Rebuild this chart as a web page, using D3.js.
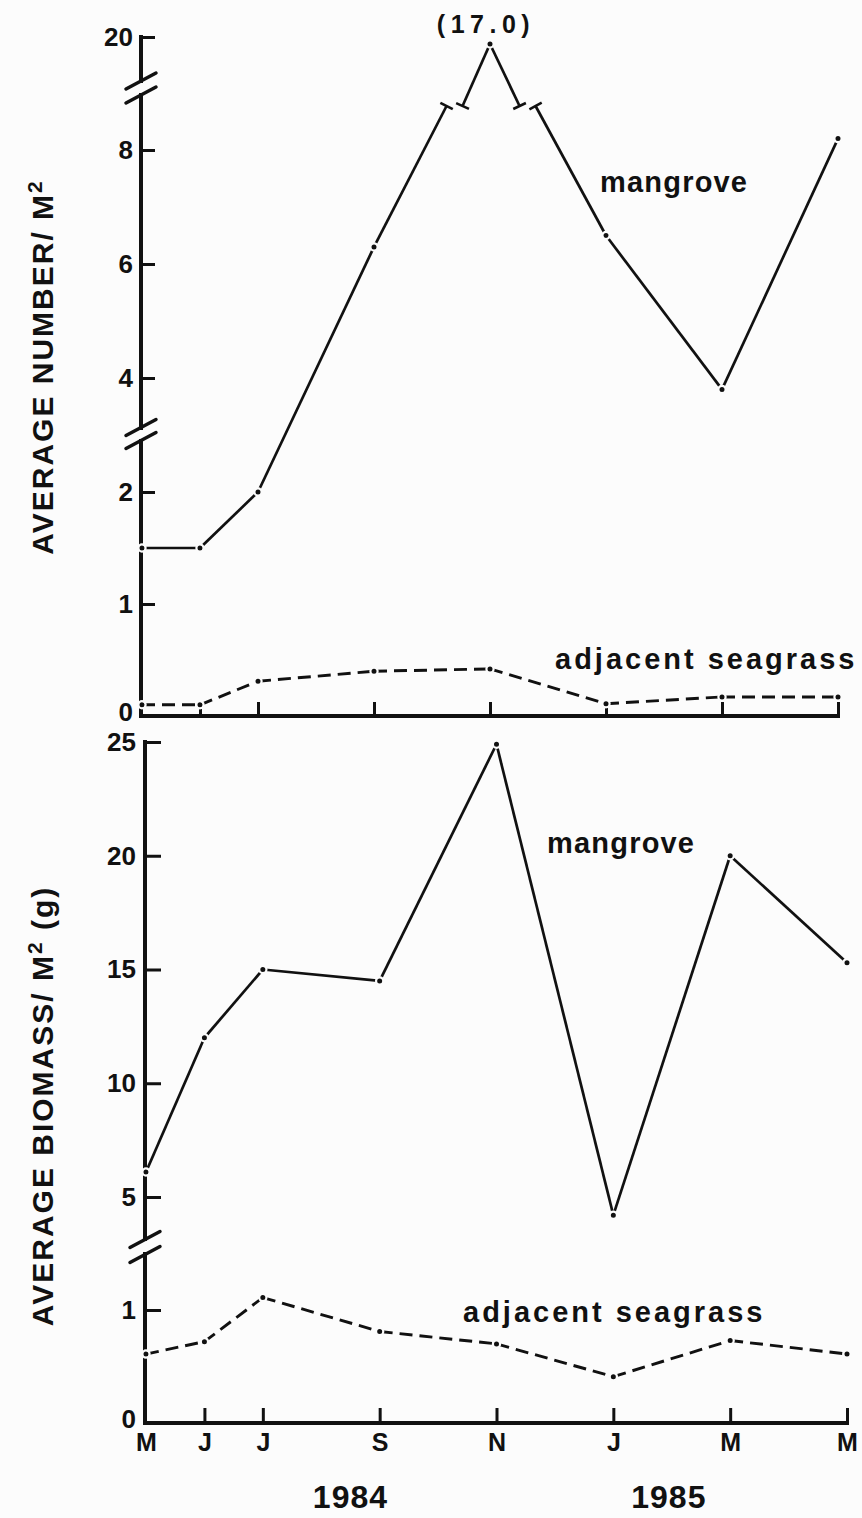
<!DOCTYPE html>
<html>
<head>
<meta charset="utf-8">
<script src="https://cdn.jsdelivr.net/npm/d3@7"></script>
<style>
  html, body { margin: 0; padding: 0; background: #fcfcfc; }
  svg { display: block; }
  text { font-family: "Liberation Sans", Arial, Helvetica, sans-serif; font-weight: bold; fill: #111; }
</style>
</head>
<body>
<svg id="chart" width="862" height="1518"></svg>
<script>
// Sampling months, counted in months from May 1984
const months = ["M", "J", "J", "S", "N", "J", "M", "M"];
const monthIndex = [0, 1, 2, 4, 6, 8, 10, 12];
const years = ["1984", "1985"];
const yearIndex = [3.5, 8.95];

// Average number of fish per m²
const numberMangrove = [1.5, 1.5, 2.0, 6.3, 17.0, 6.5, 3.8, 8.2];
const numberSeagrass = [0.1, 0.1, 0.31, 0.4, 0.42, 0.11, 0.17, 0.17];
const numberTicks = [0, 1, 2, 4, 6, 8, 20];

// Average biomass per m² (g)
const biomassMangrove = [6.1, 12.0, 15.0, 14.5, 24.9, 4.2, 20.0, 15.3];
const biomassSeagrass = [0.61, 0.72, 1.11, 0.81, 0.70, 0.41, 0.73, 0.61];
const biomassTicksLow = [0, 1];
const biomassTicksHigh = [5, 10, 15, 20, 25];

const INK = "#111";
const BG = "#fcfcfc";
const svg = d3.select("#chart");

// ---------- scales ----------
// upper panel: a broken axis, 0–2 stretched, 2–9 normal, top compressed
const xTop = d3.scaleLinear().domain([0, 12]).range([142, 838]);
const yTop = d3.scaleLinear().domain([0, 2, 9, 17, 20]).range([716, 492, 93, 44, 37]);
const axisXTop = 141;

// lower panel: separate scales below and above the axis break
const xBot = d3.scaleLinear().domain([0, 12]).range([146, 847]);
const yBotLow = d3.scaleLinear().domain([0, 1]).range([1423, 1310]);
const yBotHigh = d3.scaleLinear().domain([5, 25]).range([1197, 742]);
const axisXBot = 145;

// ---------- helpers ----------
function axisBreak(g, x, yc, gap) {
  // two parallel slashes across the axis
  [-gap / 2, gap / 2].forEach(off => {
    g.append("line")
      .attr("x1", x - 15).attr("y1", yc + off + 8)
      .attr("x2", x + 15).attr("y2", yc + off - 8)
      .attr("stroke", INK).attr("stroke-width", 3.5).attr("stroke-linecap", "round");
  });
}

function vLine(g, x, y1, y2) {
  g.append("line").attr("x1", x).attr("x2", x).attr("y1", y1).attr("y2", y2)
    .attr("stroke", INK).attr("stroke-width", 4).attr("stroke-linecap", "square");
}

function styleAxis(sel, size) {
  sel.select(".domain").remove();
  sel.selectAll(".tick line").attr("stroke", INK).attr("stroke-width", 3);
  sel.selectAll(".tick text")
    .style("font-size", size + "px")
    .attr("fill", INK)
    .style("font-family", '"Liberation Sans", Arial, Helvetica, sans-serif')
    .style("font-weight", "bold");
}

function capAt(g, end, dir) {
  // short stroke perpendicular to a line piece, marking an interrupted line
  const len = Math.hypot(dir[0], dir[1]);
  const nx = -dir[1] / len * 7, ny = dir[0] / len * 7;
  g.append("line")
    .attr("x1", end[0] - nx).attr("y1", end[1] - ny)
    .attr("x2", end[0] + nx).attr("y2", end[1] + ny)
    .attr("stroke", INK).attr("stroke-width", 2.6);
}

function drawSeries(g, pts, dashed, cutY, cutAbove) {
  for (let i = 0; i < pts.length - 1; i++) {
    const p = pts[i], q = pts[i + 1];
    const crosses = (p[1] < cutY) !== (q[1] < cutY);
    const pieces = [];
    if (cutAbove && crosses) {
      const t = (cutY - p[1]) / (q[1] - p[1]);
      const xc = p[0] + t * (q[0] - p[0]);
      const a = [xc - 8, cutY], b = [xc + 8, cutY];
      pieces.push([p, a], [b, q]);
      capAt(g, a, [a[0] - p[0], a[1] - p[1]]);
      capAt(g, b, [q[0] - b[0], q[1] - b[1]]);
    } else {
      pieces.push([p, q]);
    }
    pieces.forEach(seg => {
      g.append("path")
        .attr("d", d3.line()(seg))
        .attr("fill", "none").attr("stroke", INK)
        .attr("stroke-width", dashed ? 2.9 : 2.7)
        .attr("stroke-dasharray", dashed ? "13,7" : null);
    });
  }
  g.selectAll(null).data(pts).join("circle")
    .attr("cx", d => d[0]).attr("cy", d => d[1]).attr("r", 3.6)
    .attr("fill", INK).attr("stroke", BG).attr("stroke-width", 2.2);
}

// ---------- upper panel: average number ----------
const gTop = svg.append("g");

// y axis (ticks point inward, labels outside)
const yAxisTop = d3.axisLeft(yTop).tickValues(numberTicks).tickSize(-14).tickPadding(8)
  .tickFormat(d3.format("d"));
gTop.append("g").attr("transform", `translate(${axisXTop},0)`).call(yAxisTop)
  .call(s => styleAxis(s, 26))
  .call(s => s.selectAll(".tick text").filter(d => d === 0).attr("y", -4));

// axis line with two breaks
vLine(gTop, axisXTop, yTop(20), 81);
vLine(gTop, axisXTop, 95, 428);
vLine(gTop, axisXTop, 441, yTop(0));
axisBreak(gTop, axisXTop, 88, 14);
axisBreak(gTop, axisXTop, 434, 13);

// x axis
const xAxisTop = d3.axisBottom(xTop).tickValues(monthIndex.slice(1)).tickSize(-14).tickFormat("");
gTop.append("g").attr("transform", `translate(0,${yTop(0)})`).call(xAxisTop).call(s => styleAxis(s, 24));
gTop.append("line").attr("x1", axisXTop).attr("x2", xTop(12))
  .attr("y1", yTop(0)).attr("y2", yTop(0))
  .attr("stroke", INK).attr("stroke-width", 4).attr("stroke-linecap", "square");

// series
const nmPts = numberMangrove.map((v, i) => [xTop(monthIndex[i]), yTop(v)]);
const nsPts = numberSeagrass.map((v, i) => [xTop(monthIndex[i]), yTop(v)]);
drawSeries(gTop, nsPts, true, 0, false);
drawSeries(gTop, nmPts, false, 106, true);

// off-scale value
const peak = numberMangrove.indexOf(d3.max(numberMangrove));
gTop.append("text")
  .attr("x", xTop(monthIndex[peak]) - 4).attr("y", yTop(numberMangrove[peak]) - 11)
  .attr("text-anchor", "middle").style("font-size", "25px").style("letter-spacing", "5.5px")
  .text(`(${numberMangrove[peak].toFixed(1)})`);

gTop.append("text").attr("x", 600).attr("y", 192)
  .style("font-size", "29px").style("letter-spacing", "1.2px").text("mangrove");
gTop.append("text").attr("x", 555).attr("y", 669)
  .style("font-size", "29px").style("letter-spacing", "3px").text("adjacent seagrass");

// y title
const t1 = gTop.append("text")
  .attr("transform", "translate(53,367) rotate(-90)")
  .attr("text-anchor", "middle").style("font-size", "30px").style("letter-spacing", "2px");
t1.append("tspan").text("AVERAGE NUMBER/ M");
t1.append("tspan").attr("dy", -11).style("font-size", "21px").text("2");

// ---------- lower panel: average biomass ----------
const gBot = svg.append("g");

const yAxisBotHigh = d3.axisLeft(yBotHigh).tickValues(biomassTicksHigh).tickSize(-16).tickPadding(9)
  .tickFormat(d3.format("d"));
gBot.append("g").attr("transform", `translate(${axisXBot},0)`).call(yAxisBotHigh)
  .call(s => styleAxis(s, 26));
const yAxisBotLow = d3.axisLeft(yBotLow).tickValues(biomassTicksLow).tickSize(-16).tickPadding(9)
  .tickFormat(d3.format("d"));
gBot.append("g").attr("transform", `translate(${axisXBot},0)`).call(yAxisBotLow)
  .call(s => styleAxis(s, 26))
  .call(s => s.selectAll(".tick text").filter(d => d === 0).attr("y", -4));

vLine(gBot, axisXBot, yBotHigh(25), 1239);
vLine(gBot, axisXBot, 1254, yBotLow(0));
axisBreak(gBot, axisXBot, 1247, 15);

// x axis with month labels
const xAxisBot = d3.axisBottom(xBot).tickValues(monthIndex).tickSize(-15).tickPadding(10)
  .tickFormat((d, i) => months[i]);
const xAxisBotG = gBot.append("g").attr("transform", `translate(0,${yBotLow(0)})`).call(xAxisBot)
  .call(s => styleAxis(s, 25));
xAxisBotG.select(".tick line").remove();
gBot.append("line").attr("x1", axisXBot).attr("x2", xBot(12))
  .attr("y1", yBotLow(0)).attr("y2", yBotLow(0))
  .attr("stroke", INK).attr("stroke-width", 4).attr("stroke-linecap", "square");

// years
gBot.selectAll(".year").data(years).join("text")
  .attr("class", "year")
  .attr("x", (d, i) => xBot(yearIndex[i])).attr("y", 1508)
  .attr("text-anchor", "middle").style("font-size", "32px").style("letter-spacing", "1px")
  .text(d => d);

// series
const bmPts = biomassMangrove.map((v, i) => [xBot(monthIndex[i]), yBotHigh(v)]);
const bsPts = biomassSeagrass.map((v, i) => [xBot(monthIndex[i]), yBotLow(v)]);
drawSeries(gBot, bsPts, true, 0, false);
drawSeries(gBot, bmPts, false, 0, false);

gBot.append("text").attr("x", 547).attr("y", 853)
  .style("font-size", "29px").style("letter-spacing", "1.2px").text("mangrove");
gBot.append("text").attr("x", 463).attr("y", 1322)
  .style("font-size", "29px").style("letter-spacing", "3px").text("adjacent seagrass");

const t2 = gBot.append("text")
  .attr("transform", "translate(53,1106) rotate(-90)")
  .attr("text-anchor", "middle").style("font-size", "30px").style("letter-spacing", "2px");
t2.append("tspan").text("AVERAGE BIOMASS/ M");
t2.append("tspan").attr("dy", -11).style("font-size", "21px").text("2");
t2.append("tspan").attr("dy", 11).text(" (g)");
</script>
</body>
</html>
